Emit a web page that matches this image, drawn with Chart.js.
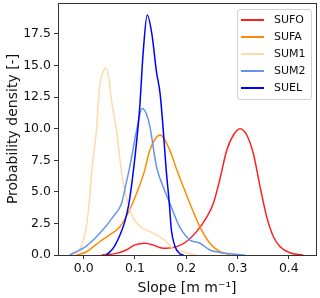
<!DOCTYPE html>
<html>
<head>
<meta charset="utf-8">
<script src="https://cdn.jsdelivr.net/npm/chart.js@4"></script>
<style>
  body { margin: 0; background: #fff; }
  #wrap { position: relative; width: 320px; height: 298px; }
  #legend {
    position: absolute; left: 237px; top: 9px; width: 73px; height: 88px;
    border: 1px solid #d0d0d0; border-radius: 3px; background: rgba(255,255,255,0.8);
    font-family: "DejaVu Sans", sans-serif; font-size: 11px; color: #111;
    padding-top: 1px; box-sizing: content-box;
  }
  .row { height: 17px; display: flex; align-items: center; }
  .swatch { display: block; width: 23px; height: 2px; margin-left: 3px; margin-right: 10px; }
</style>
</head>
<body>
<div id="wrap">
  <canvas id="chart" width="320" height="298"></canvas>
  <div id="legend"></div>
</div>
<script>
const seriesNames = ["SUFO", "SUFA", "SUM1", "SUM2", "SUEL"];
const seriesColors = ["#ff2020", "#ff8c00", "#ffdaa8", "#6495ed", "#0000ff"];

const xTicks = [0.0, 0.1, 0.2, 0.3, 0.4];
const yTicks = [0, 2.5, 5, 7.5, 10, 12.5, 15, 17.5];

// density curves (slope, density)
const sufoX = [0.035, 0.064, 0.083, 0.10, 0.119, 0.135, 0.148, 0.161, 0.181, 0.20, 0.22, 0.24, 0.253, 0.265, 0.279, 0.292, 0.305, 0.318, 0.331, 0.344, 0.357, 0.37, 0.383, 0.402, 0.428];
const sufoY = [0, 0.13, 0.4, 0.8, 0.93, 0.8, 0.6, 0.53, 0.66, 1.05, 1.85, 3.0, 4.1, 5.9, 8.3, 9.5, 10.0, 9.5, 8.0, 5.4, 3.0, 1.45, 0.66, 0.18, 0];

const sufaX = [-0.014, 0.005, 0.031, 0.051, 0.07, 0.09, 0.109, 0.119, 0.129, 0.149, 0.168, 0.181, 0.207, 0.227, 0.246, 0.266, 0.285];
const sufaY = [0, 0.24, 1.05, 1.6, 2.2, 3.6, 5.5, 6.7, 8.3, 9.5, 8.3, 6.8, 4.1, 2.2, 0.93, 0.26, 0.05];

const sum1X = [-0.021, -0.005, 0.005, 0.012, 0.016, 0.025, 0.031, 0.038, 0.044, 0.049, 0.054, 0.064, 0.074, 0.083, 0.096, 0.109, 0.129, 0.148, 0.161, 0.174, 0.194, 0.207, 0.22];
const sum1Y = [0, 0.66, 2.2, 4.6, 6.7, 9.9, 13.3, 14.5, 14.8, 14.0, 12.3, 9.9, 6.5, 4.6, 3.0, 2.3, 1.85, 1.45, 1.05, 0.5, 0.26, 0.08, 0];

const sum2X = [-0.027, 0.005, 0.031, 0.057, 0.074, 0.083, 0.09, 0.103, 0.114, 0.122, 0.129, 0.142, 0.155, 0.168, 0.1875, 0.207, 0.227, 0.246, 0.266, 0.29, 0.315];
const sum2Y = [0, 0.7, 1.7, 3.0, 4.1, 5.7, 7.0, 9.8, 11.6, 11.2, 10.2, 7.0, 5.4, 4.1, 2.2, 1.2, 0.93, 0.4, 0.2, 0.08, 0];

const suelX = [0.044, 0.057, 0.07, 0.08, 0.088, 0.095, 0.102, 0.109, 0.116, 0.124, 0.133, 0.142, 0.149, 0.155, 0.161, 0.167, 0.171, 0.178, 0.1875, 0.195];
const suelY = [0, 0.5, 1.5, 2.6, 4.0, 6.0, 8.5, 11.5, 16.0, 19.0, 17.5, 14.5, 12.8, 10.0, 6.7, 4.1, 2.0, 0.7, 0.1, 0];

const seriesX = [sufoX, sufaX, sum1X, sum2X, suelX];
const seriesY = [sufoY, sufaY, sum1Y, sum2Y, suelY];

// html legend
const legendEl = document.getElementById("legend");
seriesNames.forEach((name, i) => {
  const row = document.createElement("div");
  row.className = "row";
  row.innerHTML = `<span class="swatch" style="background-color:${seriesColors[i]}"></span><span>${name}</span>`;
  legendEl.appendChild(row);
});

// box round the plot, like matplotlib
const frame = {
  id: "frame",
  afterDatasetsDraw(chart) {
    const a = chart.chartArea;
    const ctx = chart.ctx;
    ctx.save();
    ctx.strokeStyle = "#333";
    ctx.lineWidth = 1;
    ctx.strokeRect(Math.round(a.left) + 0.5, Math.round(a.top) + 0.5, Math.round(a.right - a.left), Math.round(a.bottom - a.top));
    ctx.restore();
  },
};

const font = { family: "'DejaVu Sans', sans-serif", size: 12.5 };

new Chart(document.getElementById("chart"), {
  type: "line",
  data: {
    datasets: seriesNames.map((name, i) => ({
      label: name,
      data: seriesX[i].map((x, j) => ({ x: x, y: seriesY[i][j] })),
      borderColor: seriesColors[i],
      borderWidth: 1.5,
      pointRadius: 0,
      fill: false,
      cubicInterpolationMode: "monotone",
      order: seriesNames.length - i,
    })),
  },
  options: {
    responsive: false,
    animation: false,
    events: [],
    layout: { padding: { top: 3, right: 4, left: 0, bottom: 0 } },
    plugins: { legend: { display: false }, tooltip: { enabled: false } },
    scales: {
      x: {
        type: "linear",
        min: -0.05,
        max: 0.453,
        afterBuildTicks: (scale) => { scale.ticks = xTicks.map((v) => ({ value: v })); },
        afterFit: (scale) => { scale.height = 43; scale.paddingLeft = 0; scale.paddingRight = 0; },
        ticks: { color: "#111", font: font, padding: 2, maxRotation: 0, callback: (v) => v.toFixed(1) },
        grid: { drawOnChartArea: false, drawTicks: true, tickLength: 4, tickColor: "#333" },
        border: { display: false },
        title: { display: true, text: "Slope [m m⁻¹]", color: "#111", font: { family: "'DejaVu Sans', sans-serif", size: 14 }, padding: { top: 0, bottom: 1 } },
      },
      y: {
        min: 0,
        max: 19.95,
        afterBuildTicks: (scale) => { scale.ticks = yTicks.map((v) => ({ value: v })); },
        afterFit: (scale) => { scale.width = 58; scale.paddingTop = 0; scale.paddingBottom = 0; },
        ticks: { color: "#111", font: font, padding: 3, callback: (v) => v.toFixed(1) },
        grid: { drawOnChartArea: false, drawTicks: true, tickLength: 4, tickColor: "#333" },
        border: { display: false },
        title: { display: true, text: "Probability density [-]", color: "#111", font: { family: "'DejaVu Sans', sans-serif", size: 14 }, padding: { top: 5, bottom: 0 } },
      },
    },
  },
  plugins: [frame],
});
</script>
</body>
</html>
